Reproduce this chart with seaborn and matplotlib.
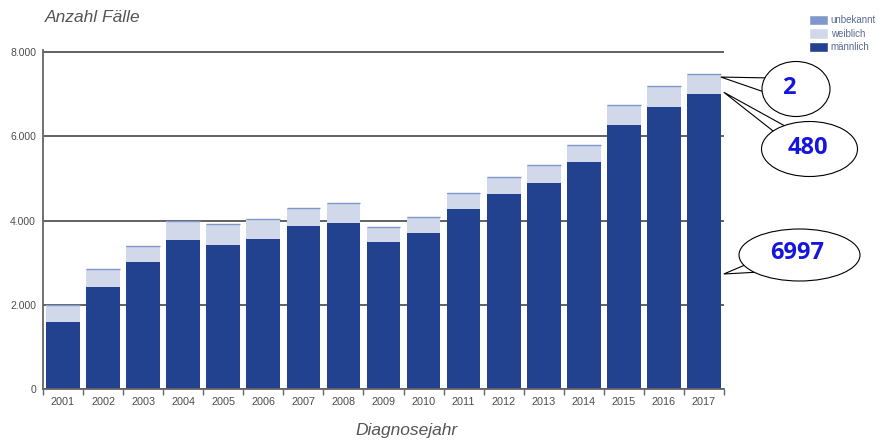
import numpy as np
import pandas as pd
import matplotlib
matplotlib.use("Agg")
import matplotlib.pyplot as plt
from matplotlib.patches import Ellipse, Polygon, Patch
from matplotlib.ticker import FuncFormatter, FixedLocator
import seaborn as sns

# Fallzahlen nach Diagnosejahr und Geschlecht
jahre = [str(j) for j in range(2001, 2018)]
maennlich = [1600, 2430, 3010, 3530, 3420, 3560, 3860, 3950, 3480, 3710,
             4280, 4630, 4890, 5400, 6260, 6700, 6997]
weiblich = [395, 420, 370, 460, 490, 475, 445, 475, 370, 375,
            360, 400, 435, 400, 485, 490, 480]
unbekannt = [3, 2, 4, 3, 5, 2, 4, 3, 2, 3, 4, 2, 3, 4, 2, 3, 2]

farbe_m = "#22418f"
farbe_w = "#d0d8ea"
farbe_u = "#7f98cb"
grau = "#4d4d4d"

sns.set_style("white")
plt.rcParams["font.family"] = ["Liberation Sans", "DejaVu Sans"]

df = pd.DataFrame({"jahr": jahre, "m": maennlich, "w": weiblich, "u": unbekannt})
df["mw"] = df["m"] + df["w"]
df["gesamt"] = df["mw"] + df["u"]

fig = plt.figure(figsize=(8.84, 4.40), dpi=100)
ax = fig.add_axes([43 / 884, 51 / 440, (724 - 43) / 884, (389 - 50) / 440])

breite = 0.84
# gestapelte Säulen: Gesamt, dann männlich+weiblich, dann männlich darüber
sns.barplot(data=df, x="jahr", y="gesamt", color=farbe_u, width=breite,
            saturation=1, linewidth=0, ax=ax, zorder=2)
sns.barplot(data=df, x="jahr", y="mw", color=farbe_w, width=breite,
            saturation=1, linewidth=0, ax=ax, zorder=2)
sns.barplot(data=df, x="jahr", y="m", color=farbe_m, width=breite,
            saturation=1, linewidth=0, ax=ax, zorder=2)
pos = np.arange(len(jahre))
ax.hlines(df["gesamt"], pos - breite / 2, pos + breite / 2, color=farbe_u,
          linewidth=1.0, zorder=3)

ax.set_xlim(-0.5, len(jahre) - 0.5)
ax.set_ylim(0, 8050)
ax.set_yticks([0, 2000, 4000, 6000, 8000])
ax.yaxis.set_major_formatter(FuncFormatter(lambda v, p: f"{v:,.0f}".replace(",", ".")))
ax.yaxis.grid(True, color="#555555", linewidth=1.3, zorder=0)
ax.set_axisbelow(True)
ax.xaxis.grid(False)

for s in ["top", "right"]:
    ax.spines[s].set_visible(False)
for s in ["left", "bottom"]:
    ax.spines[s].set_color("#666666")
    ax.spines[s].set_linewidth(1.3)

ax.tick_params(axis="y", which="major", length=4, width=1, color="#666666",
               labelsize=7.5, labelcolor=grau, pad=1)
ax.tick_params(axis="x", which="major", length=0, labelsize=7.8,
               labelcolor=grau, pad=6)
ax.xaxis.set_minor_locator(FixedLocator(np.arange(-0.5, len(jahre), 1.0)))
ax.tick_params(axis="x", which="minor", length=4, width=1, color="#666666",
               bottom=True)
ax.set_xlabel("")
ax.set_ylabel("")

fig.text(45 / 884, 1 - 18 / 440, "Anzahl Fälle", style="italic", fontsize=12.5,
         color="#555555", ha="left", va="center")
fig.text(407 / 884, 1 - 430 / 440, "Diagnosejahr", style="italic", fontsize=12.5,
         color="#555555", ha="center", va="center")

handles = [Patch(facecolor=farbe_u, label="unbekannt"),
           Patch(facecolor=farbe_w, label="weiblich"),
           Patch(facecolor=farbe_m, label="männlich")]
fig.legend(handles=handles, loc="upper left",
           bbox_to_anchor=(802 / 884, 1 - 8 / 440), frameon=False, fontsize=7,
           handlelength=1.95, handleheight=1.3, labelspacing=0.3,
           handletextpad=0.3, borderpad=0.2, labelcolor="#5a6a90")

# Sprechblasen mit den Werten für 2017
ov = fig.add_axes([0, 0, 1, 1], facecolor="none")
ov.set_xlim(0, 884)
ov.set_ylim(440, 0)
ov.axis("off")


def px(x, y):
    dx, dy = ax.transData.transform((x, y))
    return dx, 440 - dy


letzter = len(jahre) - 1
rand = letzter + breite / 2
spitze_u = px(rand, df["gesamt"].iloc[-1])
spitze_w = px(rand, df["m"].iloc[-1] + 50)
spitze_m = (spitze_u[0] + 3, 274)

blasen = [
    (str(unbekannt[-1]), (796, 89), 68, 55, (spitze_u[0], spitze_u[1] + 3),
     [(772, 78), (770, 94)], (789, 88)),
    (str(weiblich[-1]), (809.5, 149), 96, 55, (spitze_w[0] + 3, spitze_w[1]),
     [(794, 131), (782, 138)], (808, 148)),
    (str(maennlich[-1]), (799.5, 255), 121, 52, spitze_m,
     [(752, 262), (760, 272)], (797, 253)),
]
for text, mitte, b, h, spitze, basis, tpos in blasen:
    ov.add_patch(Polygon([spitze, basis[0], basis[1]], closed=True,
                         facecolor="white", edgecolor="black", linewidth=0.8,
                         zorder=1))
    ov.add_patch(Ellipse(mitte, b, h, facecolor="white", edgecolor="black",
                         linewidth=0.8, zorder=2))
    ov.text(tpos[0], tpos[1], text, color="#1515e0", fontsize=17,
            fontweight="bold", family=["Open Sans", "DejaVu Sans"],
            ha="center", va="center", zorder=3)

fig.savefig("out.png", dpi=100)
